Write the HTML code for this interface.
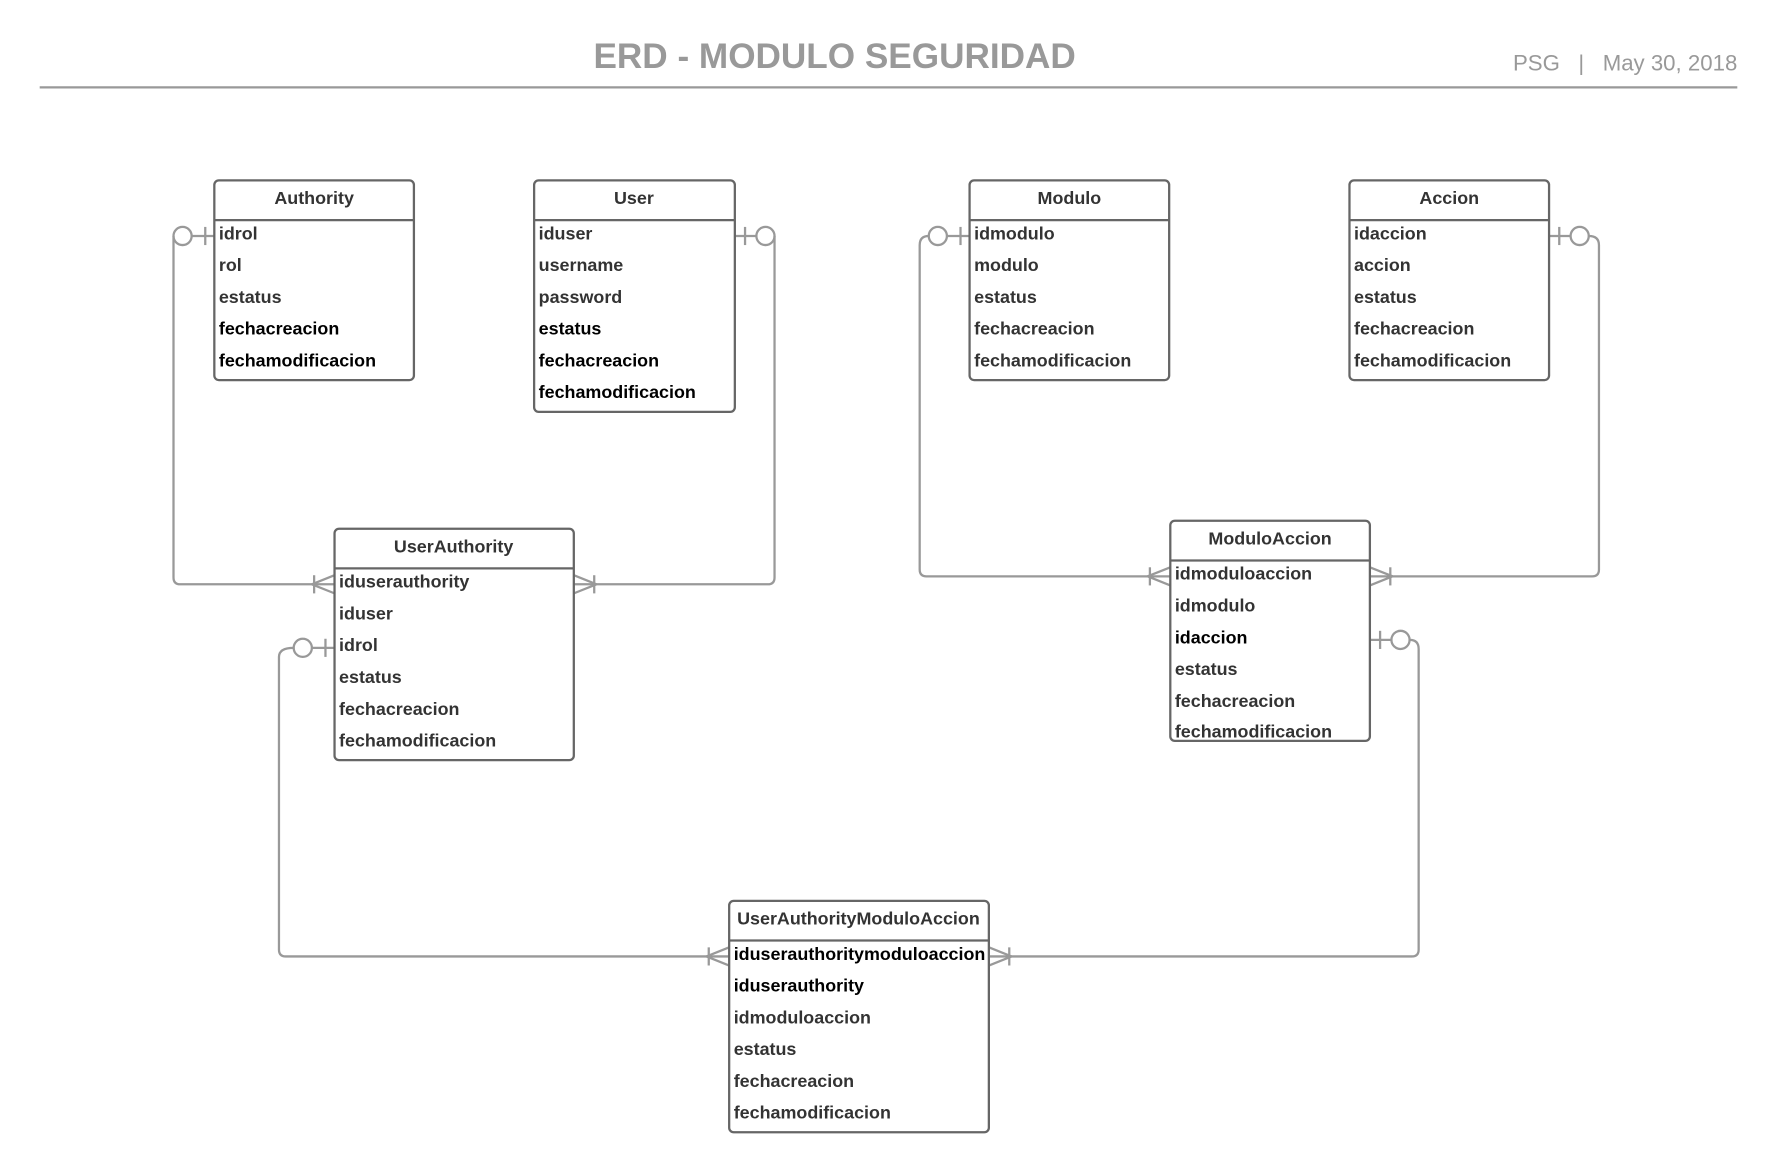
<!DOCTYPE html>
<html><head><meta charset="utf-8"><style>
html,body{margin:0;padding:0;background:#fff;}
svg{display:block;}
text{font-family:"Liberation Sans",Arial,sans-serif;}
.t{font-size:15.8px;font-weight:bold;fill:#333;}
.k{fill:#000;}
.h{font-size:15.8px;font-weight:bold;fill:#333;text-anchor:middle;}
.box{fill:#fff;stroke:#666;stroke-width:2;}
.c{fill:none;stroke:#999;stroke-width:2;}
</style></head><body>
<svg width="1777" height="1172" viewBox="0 0 1567 1033" preserveAspectRatio="none" xmlns="http://www.w3.org/2000/svg">
<text x="736" y="60" text-anchor="middle" style="font-size:31px;font-weight:bold;fill:#999">ERD - MODULO SEGURIDAD</text>
<text x="1532" y="62" text-anchor="end" style="font-size:19.6px;fill:#999" xml:space="preserve">PSG   |   May 30, 2018</text>
<line x1="35" y1="77" x2="1532" y2="77" stroke="#999" stroke-width="2"/>

<g class="c">
<path d="M189 208 H169"/>
<line x1="181" y1="200" x2="181" y2="216"/>
<circle cx="161" cy="208" r="8"/>
<path d="M153 208 V509 Q153 515 159 515 H295"/>
<path d="M275 515 L295 507 M275 515 L295 523"/><line x1="277" y1="507" x2="277" y2="523"/>
<path d="M648 208 H667"/>
<line x1="657" y1="200" x2="657" y2="216"/>
<circle cx="675" cy="208" r="8"/>
<path d="M683 208 V509 Q683 515 677 515 H506"/>
<path d="M526 515 L506 507 M526 515 L506 523"/><line x1="524" y1="507" x2="524" y2="523"/>
<path d="M855 208 H835"/>
<line x1="847" y1="200" x2="847" y2="216"/>
<circle cx="827" cy="208" r="8"/>
<path d="M819 208 Q811 208 811 216 V502 Q811 508 817 508 H1032"/>
<path d="M1012 508 L1032 500 M1012 508 L1032 516"/><line x1="1014" y1="500" x2="1014" y2="516"/>
<path d="M1366 208 H1385"/>
<line x1="1375" y1="200" x2="1375" y2="216"/>
<circle cx="1393" cy="208" r="8"/>
<path d="M1401 208 Q1410 208 1410 216 V502 Q1410 508 1404 508 H1208"/>
<path d="M1228 508 L1208 500 M1228 508 L1208 516"/><line x1="1226" y1="500" x2="1226" y2="516"/>
<path d="M295 571 H275"/>
<line x1="287" y1="563" x2="287" y2="579"/>
<circle cx="267" cy="571" r="8"/>
<path d="M259 571 Q246 571 246 579 V837 Q246 843 252 843 H643"/>
<path d="M623 843 L643 835 M623 843 L643 851"/><line x1="625" y1="835" x2="625" y2="851"/>
<path d="M1208 564 H1227"/>
<line x1="1217" y1="556" x2="1217" y2="572"/>
<circle cx="1235" cy="564" r="8"/>
<path d="M1243 564 Q1251 564 1251 572 V837 Q1251 843 1245 843 H872"/>
<path d="M892 843 L872 835 M892 843 L872 851"/><line x1="890" y1="835" x2="890" y2="851"/>
</g>

<rect class="box" x="189" y="159" width="176" height="176" rx="4"/>
<line x1="189" y1="194" x2="365" y2="194" stroke="#666" stroke-width="2"/>
<text class="h" x="277" y="180">Authority</text>
<text class="t" x="193" y="211">idrol</text>
<text class="t" x="193" y="239">rol</text>
<text class="t" x="193" y="267">estatus</text>
<text class="t k" x="193" y="295">fechacreacion</text>
<text class="t k" x="193" y="323">fechamodificacion</text>

<rect class="box" x="471" y="159" width="177" height="204" rx="4"/>
<line x1="471" y1="194" x2="648" y2="194" stroke="#666" stroke-width="2"/>
<text class="h" x="559" y="180">User</text>
<text class="t" x="475" y="211">iduser</text>
<text class="t" x="475" y="239">username</text>
<text class="t" x="475" y="267">password</text>
<text class="t k" x="475" y="295">estatus</text>
<text class="t k" x="475" y="323">fechacreacion</text>
<text class="t k" x="475" y="351">fechamodificacion</text>

<rect class="box" x="855" y="159" width="176" height="176" rx="4"/>
<line x1="855" y1="194" x2="1031" y2="194" stroke="#666" stroke-width="2"/>
<text class="h" x="943" y="180">Modulo</text>
<text class="t" x="859" y="211">idmodulo</text>
<text class="t" x="859" y="239">modulo</text>
<text class="t" x="859" y="267">estatus</text>
<text class="t" x="859" y="295">fechacreacion</text>
<text class="t" x="859" y="323">fechamodificacion</text>

<rect class="box" x="1190" y="159" width="176" height="176" rx="4"/>
<line x1="1190" y1="194" x2="1366" y2="194" stroke="#666" stroke-width="2"/>
<text class="h" x="1278" y="180">Accion</text>
<text class="t" x="1194" y="211">idaccion</text>
<text class="t" x="1194" y="239">accion</text>
<text class="t" x="1194" y="267">estatus</text>
<text class="t" x="1194" y="295">fechacreacion</text>
<text class="t" x="1194" y="323">fechamodificacion</text>

<rect class="box" x="295" y="466" width="211" height="204" rx="4"/>
<line x1="295" y1="501" x2="506" y2="501" stroke="#666" stroke-width="2"/>
<text class="h" x="400" y="487">UserAuthority</text>
<text class="t" x="299" y="518">iduserauthority</text>
<text class="t" x="299" y="546">iduser</text>
<text class="t" x="299" y="574">idrol</text>
<text class="t" x="299" y="602">estatus</text>
<text class="t" x="299" y="630">fechacreacion</text>
<text class="t" x="299" y="658">fechamodificacion</text>

<rect class="box" x="1032" y="459" width="176" height="194" rx="4"/>
<line x1="1032" y1="494" x2="1208" y2="494" stroke="#666" stroke-width="2"/>
<text class="h" x="1120" y="480">ModuloAccion</text>
<text class="t" x="1036" y="511">idmoduloaccion</text>
<text class="t" x="1036" y="539">idmodulo</text>
<text class="t k" x="1036" y="567">idaccion</text>
<text class="t" x="1036" y="595">estatus</text>
<text class="t" x="1036" y="623">fechacreacion</text>
<text class="t" x="1036" y="650">fechamodificacion</text>

<rect class="box" x="643" y="794" width="229" height="204" rx="4"/>
<line x1="643" y1="829" x2="872" y2="829" stroke="#666" stroke-width="2"/>
<text class="h" x="757" y="815">UserAuthorityModuloAccion</text>
<text class="t k" x="647" y="846">iduserauthoritymoduloaccion</text>
<text class="t k" x="647" y="874">iduserauthority</text>
<text class="t" x="647" y="902">idmoduloaccion</text>
<text class="t" x="647" y="930">estatus</text>
<text class="t" x="647" y="958">fechacreacion</text>
<text class="t" x="647" y="986">fechamodificacion</text>
</svg>
</body></html>
